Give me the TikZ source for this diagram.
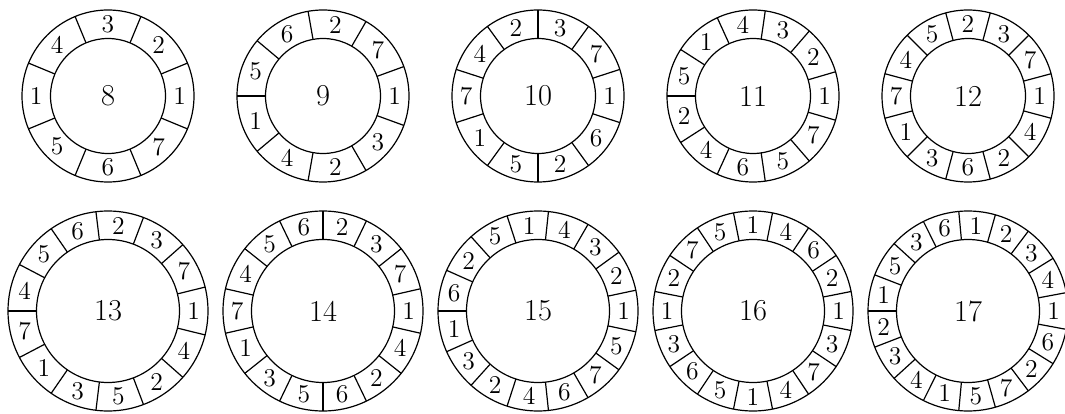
\documentclass[tikz,border=0pt]{standalone}
\usetikzlibrary{calc}
\tikzset{
  ringline/.style={line width=0.6pt},
  seglabel/.style={inner sep=0pt, font=\fontsize{12.8}{14}\selectfont},
  centerlabel/.style={inner sep=0pt, font=\fontsize{15.2}{17}\selectfont},
}
\newcommand\myring[7]{% #1 name, #2 x, #3 y, #4 outer r, #5 inner r, #6 n, #7 labels
  \coordinate (#1) at (#2,#3);
  \draw[ringline] (#1) circle[radius=#4];
  \draw[ringline] (#1) circle[radius=#5];
  \pgfmathsetmacro\rgang{360/#6}
  \foreach \lab [count=\k from 0] in {#7} {
    \pgfmathsetmacro\rgmid{\k*\rgang}
    \pgfmathsetmacro\rgbnd{\rgmid+\rgang/2}
    \draw[ringline] ($(#1)+(\rgbnd:#5)$) -- ($(#1)+(\rgbnd:#4)$);
    \node[seglabel] (#1-\k) at ($(#1)+(\rgmid:{(#4+#5)/2})$) {\lab};
  }
  \node[centerlabel] (#1-c) at (#1) {#6};
}
\begin{document}
\begin{tikzpicture}[x=0.5pt,y=0.5pt]
\useasboundingbox (0,0) rectangle (1065,413);
\clip (0,0) rectangle (1065,413);
\myring{r8}{108}{317}{86}{57.5}{8}{1,2,3,4,1,5,6,7}
\myring{r9}{323}{317}{86}{57.5}{9}{1,7,2,6,5,1,4,2,3}
\myring{r10}{538}{317}{86}{57.5}{10}{1,7,3,2,4,7,1,5,2,6}
\myring{r11}{753}{317}{86}{57.5}{11}{1,2,3,4,1,5,2,4,6,5,7}
\myring{r12}{968}{317}{86}{57.5}{12}{1,7,3,2,5,4,7,1,3,6,2,4}
\myring{r13}{108}{102}{100}{71.5}{13}{1,7,3,2,6,5,4,7,1,3,5,2,4}
\myring{r14}{323}{102}{100}{71.5}{14}{1,7,3,2,6,5,4,7,1,3,5,6,2,4}
\myring{r15}{538}{102}{100}{71.5}{15}{1,2,3,4,1,5,2,6,1,3,2,4,6,7,5}
\myring{r16}{753}{102}{100}{71.5}{16}{1,2,6,4,1,5,7,2,1,3,6,5,1,4,7,3}
\myring{r17}{968}{102}{100}{71.5}{17}{1,4,3,2,1,6,3,5,1,2,3,4,1,5,7,2,6}
\end{tikzpicture}
\end{document}
